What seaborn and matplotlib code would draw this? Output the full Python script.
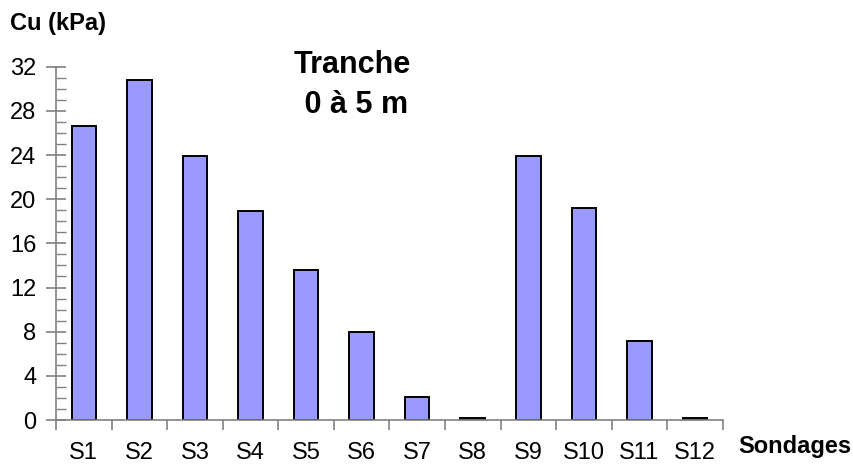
import matplotlib
matplotlib.use("Agg")
import matplotlib.pyplot as plt
from matplotlib.ticker import MultipleLocator, FixedLocator, NullFormatter
import seaborn as sns
import pandas as pd

# Undrained shear strength per borehole, layer 0-5 m
sondages = ["S1", "S2", "S3", "S4", "S5", "S6", "S7", "S8", "S9", "S10", "S11", "S12"]
cu_kpa = [26.6, 30.8, 23.9, 18.9, 13.6, 8.0, 2.05, 0.15, 23.9, 19.2, 7.15, 0.15]
y_ticks = [0, 4, 8, 12, 16, 20, 24, 28, 32]

df = pd.DataFrame({"Sondage": sondages, "Cu": cu_kpa})

sns.set_theme(style="white")
plt.rcParams["font.family"] = ["Liberation Sans", "DejaVu Sans"]
plt.rcParams["text.color"] = "black"

fig = plt.figure(figsize=(8.54, 4.66), dpi=100)
ax = fig.add_axes([0.0656, 0.0987, 0.7807, 0.7582])

sns.barplot(data=df, x="Sondage", y="Cu", color="#9999FF", saturation=1,
            edgecolor="black", linewidth=1.4, width=0.44, ax=ax)

ax.set_xlim(-0.5, len(sondages) - 0.5)
ax.set_ylim(0, 32)
ax.set_xlabel("")
ax.set_ylabel("")

# Axes: only left and bottom, grey lines
for side in ("top", "right"):
    ax.spines[side].set_visible(False)
for side in ("left", "bottom"):
    ax.spines[side].set_color("#808080")
    ax.spines[side].set_linewidth(1.2)

ax.set_yticks(y_ticks)
ax.yaxis.set_minor_locator(MultipleLocator(1))
ax.tick_params(axis="y", which="major", direction="inout", length=14, width=1.2,
               color="#808080", labelsize=17, pad=7, left=True, labelcolor="black")
ax.tick_params(axis="y", which="minor", direction="in", length=7, width=1.0,
               color="#808080", left=True)

# Category labels centred, tick marks at category boundaries
ax.set_xticks(range(len(sondages)))
ax.set_xticklabels(sondages)
ax.xaxis.set_minor_locator(FixedLocator([i - 0.5 for i in range(len(sondages) + 1)]))
ax.xaxis.set_minor_formatter(NullFormatter())
ax.tick_params(axis="x", which="major", length=0, labelsize=17, pad=16,
               labelcolor="black")
ax.tick_params(axis="x", which="minor", direction="out", length=7, width=1.2,
               color="#808080", bottom=True)

fig.text(0.012, 0.935, "Cu (kPa)", fontsize=17, fontweight="bold", ha="left",
         va="baseline", color="black")
fig.text(0.864, 0.028, "Sondages", fontsize=17, fontweight="bold", ha="left",
         va="baseline", color="black")
fig.text(0.412, 0.757, "Tranche\n 0 à 5 m", fontsize=22, fontweight="bold",
         ha="center", va="baseline", linespacing=1.45, color="black")

fig.savefig("out.png", dpi=100)
